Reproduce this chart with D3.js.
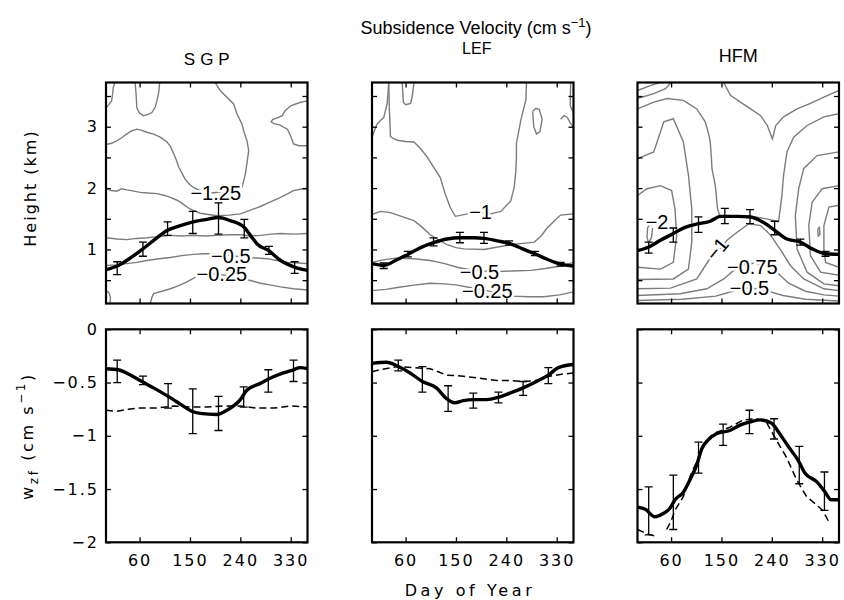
<!DOCTYPE html>
<html><head><meta charset="utf-8">
<script src="https://cdn.jsdelivr.net/npm/d3@7"></script>
<style>
body{margin:0;background:#fff;}
svg{display:block;}
.tick text{font-family:"DejaVu Sans",sans-serif;font-size:16px;letter-spacing:2px;fill:#000;}
.tick line{stroke:#000;stroke-width:1.3;}
</style></head>
<body>
<svg id="c" width="844" height="600"></svg>
<script>
// ---------------- DATA ----------------
const sites = ["SGP", "LEF", "HFM"];
const xTicks = [60, 150, 240, 330];
const topYTicks = [0.5, 1, 1.5, 2, 2.5, 3, 3.5];
const topYLabels = [1, 2, 3];
const botYTicks = [0, -0.5, -1, -1.5, -2];

// Top row: boundary-layer height (km), thick black line [day, km]
const sgpHeight = [[0,0.67],[22,0.74],[45,0.87],[66,1.01],[88,1.17],[109,1.31],[130,1.38],[156,1.45],[180,1.49],[201,1.52],[222,1.47],[246,1.37],[258,1.23],[270,1.09],[291,0.98],[312,0.82],[338,0.71],[360,0.66]];
const lefHeight = [[0,0.77],[21,0.74],[42,0.82],[64,0.92],[87,1.03],[110,1.11],[134,1.17],[157,1.19],[182,1.19],[200,1.18],[224,1.14],[245,1.10],[269,1.01],[291,0.93],[313,0.84],[337,0.76],[360,0.73]];
const hfmHeight = [[0,0.98],[20,1.04],[41,1.15],[64,1.26],[85,1.36],[109,1.42],[130,1.46],[148,1.54],[178,1.54],[202,1.53],[223,1.45],[244,1.32],[267,1.17],[291,1.12],[312,1.01],[336,0.93],[360,0.92]];
// error bars [day, low, high]
const sgpHeightErr = [[20,0.59,0.80],[66,0.89,1.12],[110,1.23,1.45],[155,1.26,1.62],[201,1.25,1.76],[247,1.19,1.49],[291,0.92,1.05],[337,0.61,0.80]];
const lefHeightErr = [[21,0.69,0.78],[64,0.88,0.97],[110,1.06,1.19],[157,1.11,1.28],[200,1.10,1.28],[245,1.07,1.14],[291,0.90,0.97],[337,0.73,0.79]];
const hfmHeightErr = [[20,0.94,1.12],[64,1.12,1.35],[109,1.28,1.53],[156,1.42,1.67],[201,1.42,1.65],[245,1.24,1.46],[291,1.07,1.17],[336,0.89,0.97]];

// Contour lines of subsidence velocity [day, km]
const sgpContours = [
 [[0,1.19],[20,1.17],[37,1.16],[55,1.18],[73,1.19],[95,1.21],[115,1.23],[135,1.22],[156,1.23],[178,1.22],[198,1.23],[220,1.24],[240,1.24],[258,1.22],[276,1.23],[295,1.25],[312,1.26],[335,1.25],[360,1.26]],
 [[0,0.74],[20,0.75],[37,0.77],[55,0.79],[73,0.82],[95,0.85],[115,0.87],[135,0.90],[156,0.92],[175,0.93],[192,0.93],[222,0.90],[255,0.87],[270,0.86],[288,0.85],[305,0.82],[324,0.79],[345,0.78],[360,0.77]],
 [[79,0.12],[82,0.22],[85,0.28],[100,0.32],[115,0.36],[130,0.41],[144,0.47],[162,0.56],[180,0.60],[205,0.59],[225,0.56],[246,0.52],[260,0.49],[276,0.45],[295,0.42],[312,0.39],[335,0.36],[360,0.34]],
 [[0,0.33],[5,0.30],[8,0.22],[7,0.12]],
 [[0,1.99],[10,1.96],[19,1.95],[28,1.99],[37,1.97],[50,1.95],[61,1.93],[75,1.92],[91,1.91],[105,1.88],[115,1.85],[125,1.81],[133,1.77],[142,1.71],[150,1.66],[160,1.62],[168,1.59],[183,1.57],[198,1.55],[220,1.56],[240,1.58],[252,1.62],[264,1.66],[276,1.70],[288,1.75],[300,1.80],[312,1.85],[325,1.91],[335,1.96],[347,1.98],[360,1.99]],
 [[0,2.71],[10,2.73],[19,2.77],[28,2.82],[37,2.88],[45,2.93],[55,2.96],[64,2.94],[73,2.91],[85,2.88],[97,2.83],[109,2.75],[115,2.68],[121,2.56],[126,2.45],[130,2.34],[136,2.24],[141,2.15],[148,2.07],[156,2.01],[168,1.96],[190,1.92],[215,1.95],[243,2.01],[249,2.23],[252,2.42],[255,2.61],[252,2.77],[247,2.90],[243,3.04],[234,3.21],[228,3.37],[216,3.48],[204,3.59],[195,3.72]],
 [[52,3.72],[54,3.50],[55,3.31],[60,3.22],[67,3.18],[75,3.20],[82,3.23],[88,3.32],[91,3.42],[94,3.55],[96,3.72]],
 [[0,3.31],[5,3.36],[10,3.42],[12,3.55],[13,3.64],[16,3.72]],
 [[360,3.42],[345,3.39],[330,3.34],[320,3.26],[315,3.18],[305,3.14],[298,3.12],[295,3.08],[300,3.05],[310,3.03],[324,2.96],[330,2.85],[335,2.72],[345,2.69],[360,2.69]]
];
const lefContours = [
 [[0,0.33],[25,0.35],[45,0.38],[75,0.42],[104,0.45],[130,0.44],[152,0.42],[175,0.38],[205,0.33],[230,0.28],[251,0.24],[280,0.23],[307,0.23],[335,0.26],[360,0.31]],
 [[0,0.79],[20,0.83],[45,0.86],[75,0.85],[104,0.82],[130,0.77],[152,0.71],[175,0.67],[200,0.65],[221,0.64],[250,0.65],[284,0.66],[310,0.69],[337,0.73],[360,0.79]],
 [[0,1.57],[15,1.62],[33,1.60],[55,1.53],[75,1.47],[90,1.36],[104,1.24],[120,1.15],[134,1.08],[150,1.03],[164,1.01],[200,1.00],[225,1.04],[248,1.08],[270,1.10],[290,1.12],[302,1.22],[313,1.35],[325,1.46],[337,1.56],[360,1.58]],
 [[30,3.72],[31,3.30],[33,2.84],[40,2.80],[45,2.78],[60,2.76],[75,2.75],[87,2.64],[99,2.50],[110,2.34],[122,2.17],[131,1.90],[140,1.68],[149,1.54],[160,1.56],[170,1.58],[190,1.60],[212,1.58],[230,1.62],[248,1.79],[254,2.01],[257,2.28],[258,2.50],[258,2.73],[266,3.11],[275,3.44],[276,3.72]],
 [[0,2.83],[5,2.95],[9,3.04],[15,3.10],[21,3.15],[27,3.37],[30,3.72]],
 [[54,3.72],[56,3.40],[60,3.36],[69,3.38],[72,3.50],[75,3.72]],
 [[355,3.72],[354,3.35],[357,3.28],[360,3.25]],
 [[287,3.25],[293,3.30],[299,3.28],[304,3.12],[300,2.92],[294,2.88],[289,3.00],[287,3.25]],
 [[337,3.12],[343,3.18],[349,3.15],[355,3.05],[360,3.00]]
];
const hfmContours = [
 [[0,3.59],[23,3.67],[40,3.72]],
 [[0,3.46],[29,3.54],[50,3.62],[60,3.72]],
 [[154,3.72],[166,3.51],[184,3.40],[202,3.29],[220,3.18],[232,3.02],[241,2.80],[247,3.02],[261,3.16],[285,3.29],[309,3.38],[333,3.48],[360,3.59]],
 [[0,3.29],[29,3.40],[53,3.46],[82,3.43],[106,3.29],[121,3.08],[128,2.85],[130,2.75],[132,2.50],[133,2.32],[139,2.04],[141,1.85],[143,1.66],[147,1.55],[175,1.55],[205,1.54],[235,1.49],[252,1.45],[255,1.66],[258,1.88],[261,2.21],[267,2.59],[279,2.83],[303,3.02],[333,3.16],[360,3.21]],
 [[0,1.88],[17,1.99],[41,2.04],[61,1.96],[67,1.66],[70,1.23],[64,0.79],[41,0.68],[0,0.71]],
 [[0,2.48],[29,2.59],[47,3.08],[64,3.13],[82,2.75],[91,2.21],[97,1.66],[97,1.12],[91,0.68],[64,0.52],[0,0.51]],
 [[25,1.45],[18,1.35],[17,1.20],[20,1.10],[25,1.20],[27,1.35]],
 [[360,2.59],[321,2.53],[297,2.32],[288,1.99],[282,1.55],[285,1.01],[303,0.63],[333,0.44],[360,0.41]],
 [[360,2.04],[330,1.99],[312,1.77],[306,1.39],[309,0.90],[327,0.63],[360,0.58]],
 [[360,1.72],[342,1.69],[333,1.39],[333,1.00],[336,0.79],[360,0.71]],
 [[322,1.33],[325,1.36],[326,1.25],[323,1.22],[322,1.33]],
 [[0,0.36],[59,0.37],[106,0.52],[127,0.82],[145,0.98],[160,1.15],[178,1.28],[199,1.42],[220,1.39],[238,1.23],[258,0.96],[273,0.74],[297,0.52],[333,0.36],[360,0.33]],
 [[0,0.25],[76,0.28],[124,0.36],[154,0.52],[172,0.66],[190,0.75],[210,0.78],[230,0.74],[250,0.62],[270,0.45],[300,0.32],[333,0.26],[360,0.24]],
 [[0,0.17],[80,0.19],[140,0.24],[170,0.32],[200,0.38],[230,0.33],[260,0.25],[300,0.19],[360,0.16]]
];
// contour labels [text, day, km, angle]
const sgpLabels = [["\u22121.25",196,1.92,0],["\u22120.5",223,0.90,0],["\u22120.25",207,0.60,0]];
const lefLabels = [["\u22121",194,1.61,0],["\u22120.5",192,0.64,0],["\u22120.25",206,0.32,0]];
const hfmLabels = [["\u22122",35,1.45,0],["\u22121",142,1.01,-50],["\u22120.75",205,0.72,0],["\u22120.5",200,0.37,0]];

// Bottom row: w_zf (cm s^-1)
const sgpW = [[0,-0.37],[22,-0.38],[40,-0.42],[61,-0.48],[85,-0.55],[111,-0.63],[135,-0.71],[153,-0.77],[168,-0.79],[198,-0.80],[216,-0.76],[240,-0.66],[252,-0.57],[275,-0.51],[293,-0.46],[317,-0.41],[335,-0.38],[347,-0.36],[360,-0.37]];
const lefW = [[0,-0.32],[26,-0.31],[47,-0.35],[68,-0.41],[90,-0.49],[115,-0.55],[133,-0.65],[148,-0.69],[163,-0.67],[181,-0.66],[205,-0.66],[225,-0.64],[246,-0.60],[270,-0.55],[294,-0.49],[315,-0.43],[333,-0.36],[360,-0.33]];
const hfmW = [[0,-1.67],[14,-1.69],[31,-1.76],[46,-1.73],[58,-1.68],[67,-1.60],[82,-1.53],[94,-1.41],[106,-1.27],[115,-1.12],[124,-1.05],[141,-0.98],[165,-0.95],[183,-0.90],[201,-0.87],[219,-0.85],[239,-0.88],[254,-0.98],[272,-1.12],[287,-1.23],[299,-1.35],[320,-1.43],[334,-1.52],[346,-1.60],[360,-1.60]];
const sgpWErr = [[20,-0.50,-0.29],[66,-0.52,-0.44],[111,-0.74,-0.51],[155,-0.98,-0.56],[201,-0.95,-0.63],[246,-0.73,-0.54],[290,-0.59,-0.38],[335,-0.49,-0.29]];
const lefWErr = [[47,-0.39,-0.29],[90,-0.59,-0.35],[136,-0.77,-0.53],[181,-0.74,-0.60],[226,-0.69,-0.59],[270,-0.62,-0.49],[315,-0.51,-0.36]];
const hfmWErr = [[20,-1.93,-1.48],[64,-1.88,-1.37],[109,-1.35,-1.06],[153,-1.09,-0.89],[200,-0.98,-0.76],[244,-1.03,-0.84],[289,-1.45,-1.10],[334,-1.70,-1.34]];
// dashed comparison series (null = gap)
const sgpWAlt = [[0,-0.76],[20,-0.77],[40,-0.75],[60,-0.74],[90,-0.74],[120,-0.72],[150,-0.73],[180,-0.73],[210,-0.72],[240,-0.72],[270,-0.74],[300,-0.74],[330,-0.72],[360,-0.73]];
const lefWAlt = [[0,-0.40],[14,-0.38],[44,-0.35],[74,-0.36],[104,-0.37],[133,-0.43],[163,-0.44],[193,-0.46],[223,-0.48],[246,-0.48],[270,-0.49],[294,-0.48],[318,-0.44],[342,-0.42],[360,-0.41]];
const hfmWAlt = [[0,-1.88],[17,-1.92],[37,-1.95],null,[52,-1.88],[60,-1.80],[67,-1.70],[82,-1.57],[94,-1.38],[106,-1.24],[118,-1.09],[135,-0.98],[165,-0.92],[189,-0.85],[213,-0.84],[230,-0.87],[248,-1.04],[266,-1.20],[284,-1.41],[302,-1.57],[320,-1.65],[331,-1.70],[343,-1.82]];

const heightSeries = [sgpHeight, lefHeight, hfmHeight];
const heightErrs = [sgpHeightErr, lefHeightErr, hfmHeightErr];
const contourSets = [sgpContours, lefContours, hfmContours];
const labelSets = [sgpLabels, lefLabels, hfmLabels];
const wSeries = [sgpW, lefW, hfmW];
const wErrs = [sgpWErr, lefWErr, hfmWErr];
const wAltSeries = [sgpWAlt, lefWAlt, hfmWAlt];

// ---------------- LAYOUT ----------------
const svg = d3.select("#c");
const panelLefts = [106, 372, 637.5];
const panelW = 201.5;
const topBox = [82.5, 303.5];
const botBox = [329.3, 542.3];
const SANS = "'Liberation Sans', Arial, sans-serif";
const DJ = "'DejaVu Sans', sans-serif";

function drawPanel(i, row) {
  const L = panelLefts[i];
  const x = d3.scaleLinear().domain([0, 360]).range([L, L + panelW]);
  const [y0, y1] = row === 0 ? topBox : botBox;
  const y = row === 0
    ? d3.scaleLinear().domain([0.12, 3.72]).range([y1, y0])
    : d3.scaleLinear().domain([-2, 0]).range([y1, y0]);
  const g = svg.append("g");
  const cid = "clip" + i + "_" + row;
  svg.append("clipPath").attr("id", cid).append("rect")
    .attr("x", L).attr("y", y0).attr("width", panelW).attr("height", y1 - y0);
  const content = g.append("g").attr("clip-path", `url(#${cid})`);
  const line = d3.line().defined(d => d !== null).x(d => x(d[0])).y(d => y(d[1]));

  let meanSeries, errs;
  if (row === 0) {
    const cl = d3.line().x(d => x(d[0])).y(d => y(d[1])).curve(d3.curveLinear);
    content.selectAll(".ct").data(contourSets[i]).join("path")
      .attr("d", cl).attr("fill", "none").attr("stroke", "#7c7c7c").attr("stroke-width", 1.4);
    content.selectAll(".lb").data(labelSets[i]).join("text")
      .attr("transform", d => `translate(${x(d[1])},${y(d[2])}) rotate(${d[3]})`)
      .attr("text-anchor", "middle").attr("dy", "0.36em")
      .style("font-family", SANS).style("font-size", "20px")
      .attr("fill", "#000").attr("stroke", "#fff").attr("stroke-width", 5)
      .attr("paint-order", "stroke").text(d => d[0]);
    meanSeries = heightSeries[i]; errs = heightErrs[i];
  } else {
    content.append("path").datum(wAltSeries[i]).attr("d", line)
      .attr("fill", "none").attr("stroke", "#000").attr("stroke-width", 1.5)
      .attr("stroke-dasharray", "7,4");
    meanSeries = wSeries[i]; errs = wErrs[i];
  }
  content.append("path").datum(meanSeries)
    .attr("d", d3.line().x(d => x(d[0])).y(d => y(d[1])).curve(d3.curveMonotoneX))
    .attr("fill", "none").attr("stroke", "#000").attr("stroke-width", 3.4)
    .attr("stroke-linejoin", "round");
  const eb = content.selectAll(".eb").data(errs).join("g");
  eb.append("line").attr("x1", d => x(d[0])).attr("x2", d => x(d[0]))
    .attr("y1", d => y(d[1])).attr("y2", d => y(d[2])).attr("stroke", "#000").attr("stroke-width", 1.3);
  [1, 2].forEach(k => eb.append("line")
    .attr("x1", d => x(d[0]) - 4).attr("x2", d => x(d[0]) + 4)
    .attr("y1", d => y(d[k])).attr("y2", d => y(d[k])).attr("stroke", "#000").attr("stroke-width", 1.3));

  // axes
  const yt = row === 0 ? topYTicks : botYTicks;
  const leftAx = d3.axisLeft(y).tickValues(yt).tickSize(-5).tickPadding(7)
    .tickFormat(d => {
      if (i !== 0) return "";
      if (row === 0) return topYLabels.includes(d) ? d3.format("d")(d) : "";
      return d === 0 ? "0" : d3.format(".2~f")(d).replace("-", "\u2212");
    });
  g.append("g").attr("transform", `translate(${L},0)`).call(leftAx).call(a => a.select(".domain").remove());
  g.append("g").attr("transform", `translate(${L + panelW},0)`)
    .call(d3.axisRight(y).tickValues(yt).tickSize(-5).tickFormat(""))
    .call(a => a.select(".domain").remove());
  g.append("g").attr("transform", `translate(0,${y0})`)
    .call(d3.axisTop(x).tickValues(xTicks).tickSize(-5).tickFormat(""))
    .call(a => a.select(".domain").remove());
  g.append("g").attr("transform", `translate(0,${y1})`)
    .call(d3.axisBottom(x).tickValues(xTicks).tickSize(-5).tickPadding(12)
      .tickFormat(d => row === 1 ? String(d) : ""))
    .call(a => a.select(".domain").remove());
  g.selectAll(".tick text").attr("fill", "#000");
  g.append("rect").attr("x", L).attr("y", y0).attr("width", panelW).attr("height", y1 - y0)
    .attr("fill", "none").attr("stroke", "#000").attr("stroke-width", 2.2);
}

for (let i = 0; i < 3; i++) { drawPanel(i, 0); drawPanel(i, 1); }

// Titles
const t = svg.append("text").attr("x", 476).attr("y", 34).attr("text-anchor", "middle")
  .style("font-family", SANS).style("font-size", "18px").attr("fill", "#000");
t.append("tspan").text("Subsidence Velocity (cm s");
t.append("tspan").attr("dy", -7).style("font-size", "13px").text("\u22121");
t.append("tspan").attr("dy", 7).text(")");

const titleSpec = [[0, 65, "17px", "5px"], [1, 53.5, "16px", "0px"], [2, 62, "18px", "0px"]];
titleSpec.forEach(([i, yy, fs, ls]) => {
  svg.append("text").attr("x", panelLefts[i] + panelW / 2 + (i === 1 ? 4 : 0) + (i === 0 ? 2.5 : 0)).attr("y", yy)
    .attr("text-anchor", "middle").style("font-family", SANS).style("font-size", fs)
    .style("letter-spacing", ls).attr("fill", "#000").text(sites[i]);
});

// Axis labels
svg.append("text").attr("transform", "translate(36,188) rotate(-90)").attr("text-anchor", "middle")
  .style("font-family", DJ).style("font-size", "16px").style("letter-spacing", "2px")
  .attr("fill", "#000").text("Height (km)");
const wl = svg.append("text").attr("transform", "translate(33,436) rotate(-90)").attr("text-anchor", "middle")
  .style("font-family", DJ).style("font-size", "16px").style("letter-spacing", "2.6px").attr("fill", "#000");
wl.append("tspan").text("w");
wl.append("tspan").attr("dy", 5).style("font-size", "12px").text("zf");
wl.append("tspan").attr("dy", -5).text(" (cm s");
wl.append("tspan").attr("dy", -8).style("font-size", "12px").text("\u22121");
wl.append("tspan").attr("dy", 8).text(")");
svg.append("text").attr("x", 470).attr("y", 596).attr("text-anchor", "middle")
  .style("font-family", DJ).style("font-size", "16px").style("letter-spacing", "3.6px")
  .attr("fill", "#000").text("Day of Year");
</script>
</body></html>
